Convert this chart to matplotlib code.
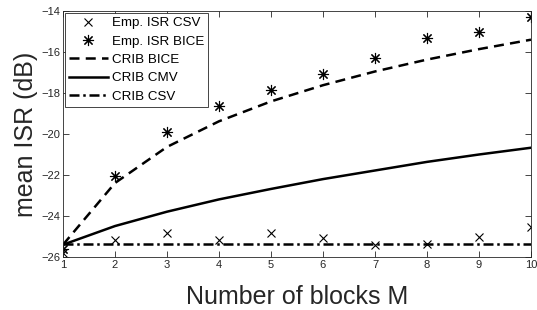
import numpy as np
from matplotlib import pyplot as plt

plt.rcParams['font.family'] = ['Liberation Sans', 'DejaVu Sans']

M = [1, 2, 3, 4, 5, 6, 7, 8, 9, 10]
emp_csv = [-25.82, -25.17, -24.84, -25.17, -24.81, -25.09, -25.41, -25.35, -25.02, -24.52]
emp_bice = [-25.62, -22.05, -19.92, -18.63, -17.85, -17.07, -16.31, -15.33, -15.04, -14.31]
crib_bice = [-25.40, -22.39, -20.63, -19.38, -18.41, -17.62, -16.95, -16.37, -15.86, -15.40]
crib_cmv = [-25.40, -24.49, -23.79, -23.19, -22.68, -22.20, -21.78, -21.36, -21.00, -20.67]
crib_csv = [-25.38] * 10

fig = plt.figure(figsize=(5.37, 3.10), dpi=100)
ax = fig.add_axes([63/537, 1 - 257/310, 468/537, 246/310])

ax.plot(M, emp_csv, 'kx', ms=6, mew=0.8, label='Emp. ISR CSV')
ax.plot(M, emp_bice, 'k', ls='none', marker=(8, 2, 0), ms=8, mew=0.8, label='Emp. ISR BICE')
ax.plot(M, crib_bice, 'k', ls=(0, (4, 2.5)), lw=1.8, label='CRIB BICE')
ax.plot(M, crib_cmv, 'k-', lw=1.8, label='CRIB CMV')
ax.plot(M, crib_csv, 'k', ls=(0, (4, 1.5, 1, 1.5)), lw=1.8, label='CRIB CSV')

ax.set_xlim(1, 10)
ax.set_ylim(-26, -14)
ax.set_xticks(range(1, 11))
ax.set_yticks(range(-26, -13, 2))
ax.tick_params(direction='in', top=True, right=True, labelsize=8, length=4, width=0.6,
               colors='#262626', pad=2)
for s in ax.spines.values():
    s.set_linewidth(0.6)
    s.set_color('#262626')

ax.set_xlabel('Number of blocks M', size=18, color='#262626', labelpad=11)
ax.set_ylabel('mean ISR (dB)', size=18, color='#262626', labelpad=2)

leg = ax.legend(loc='upper left', fontsize=9.6, fancybox=False, edgecolor='#262626',
                framealpha=1, borderpad=0.3, labelspacing=0.45, handlelength=2.9,
                handletextpad=0.3, borderaxespad=0.15)
leg.get_frame().set_linewidth(0.6)

fig.savefig('out.png', dpi=100)
